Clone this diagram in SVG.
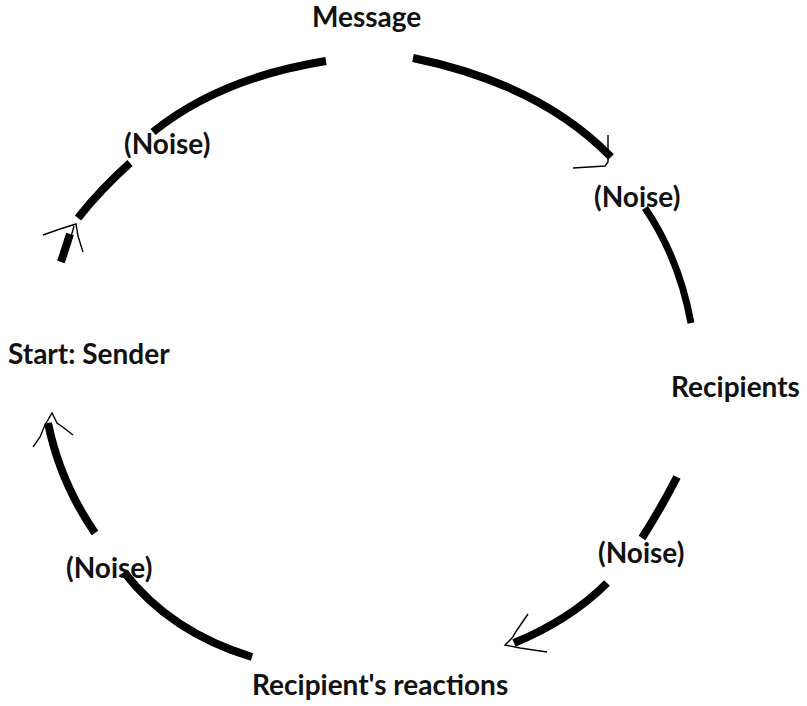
<svg xmlns="http://www.w3.org/2000/svg" width="807" height="706" viewBox="0 0 807 706">
<style>
.lbl{font-family:Lato,"Open Sans","Liberation Sans",sans-serif;font-weight:bold;font-size:28px;fill:#111}
.arc{fill:none;stroke:#000;stroke-width:8;stroke-linecap:butt}
.thin{fill:none;stroke:#000;stroke-width:1.4;stroke-linejoin:miter}
</style>
<rect width="807" height="706" fill="#fff"/>
<g id="connectors">
<path class="arc" d="M326,61 Q220,78 153,132"/>
<path class="arc" d="M130,163 Q100,190 78,218"/>
<path class="arc" d="M70,234 L61,262"/>
<path class="thin" d="M43,235 L60,229 L76,224 L78,236 L83,252 M74,226 L69,244"/>
<path class="arc" d="M413,58 Q540,84 611,157"/>
<path class="thin" d="M608,135 L608,162 L605,166 L573,168"/>
<path class="arc" d="M645,208 Q679,258 691,323" style="stroke-width:7"/>
<path class="arc" d="M677,477 Q660,510 642,538"/>
<path class="arc" d="M607,583 Q570,620 514,643"/>
<path class="thin" d="M528,614 L517,630 L512,638 L505,645 L520,648 L547,652"/>
<path class="arc" d="M252,657 Q170,632 124,572"/>
<path class="arc" d="M95,533 Q60,482 48,423"/>
<path class="thin" d="M33,447 L40,437 L45,425 L52,413 L57,423 L64,428 L73,435"/>
</g>
<g id="message"><text class="lbl" x="312" y="27">Message</text></g>
<g id="noise1"><text class="lbl" x="124" y="154">(Noise)</text></g>
<g id="noise2"><text class="lbl" x="594" y="207">(Noise)</text></g>
<g id="sender"><text class="lbl" x="8" y="364">Start: Sender</text></g>
<g id="recipients"><text class="lbl" x="671" y="397">Recipients</text></g>
<g id="noise3"><text class="lbl" x="598" y="563">(Noise)</text></g>
<g id="noise4"><text class="lbl" x="66" y="578">(Noise)</text></g>
<g id="reactions"><text class="lbl" x="252" y="695">Recipient's reactions</text></g>
</svg>
